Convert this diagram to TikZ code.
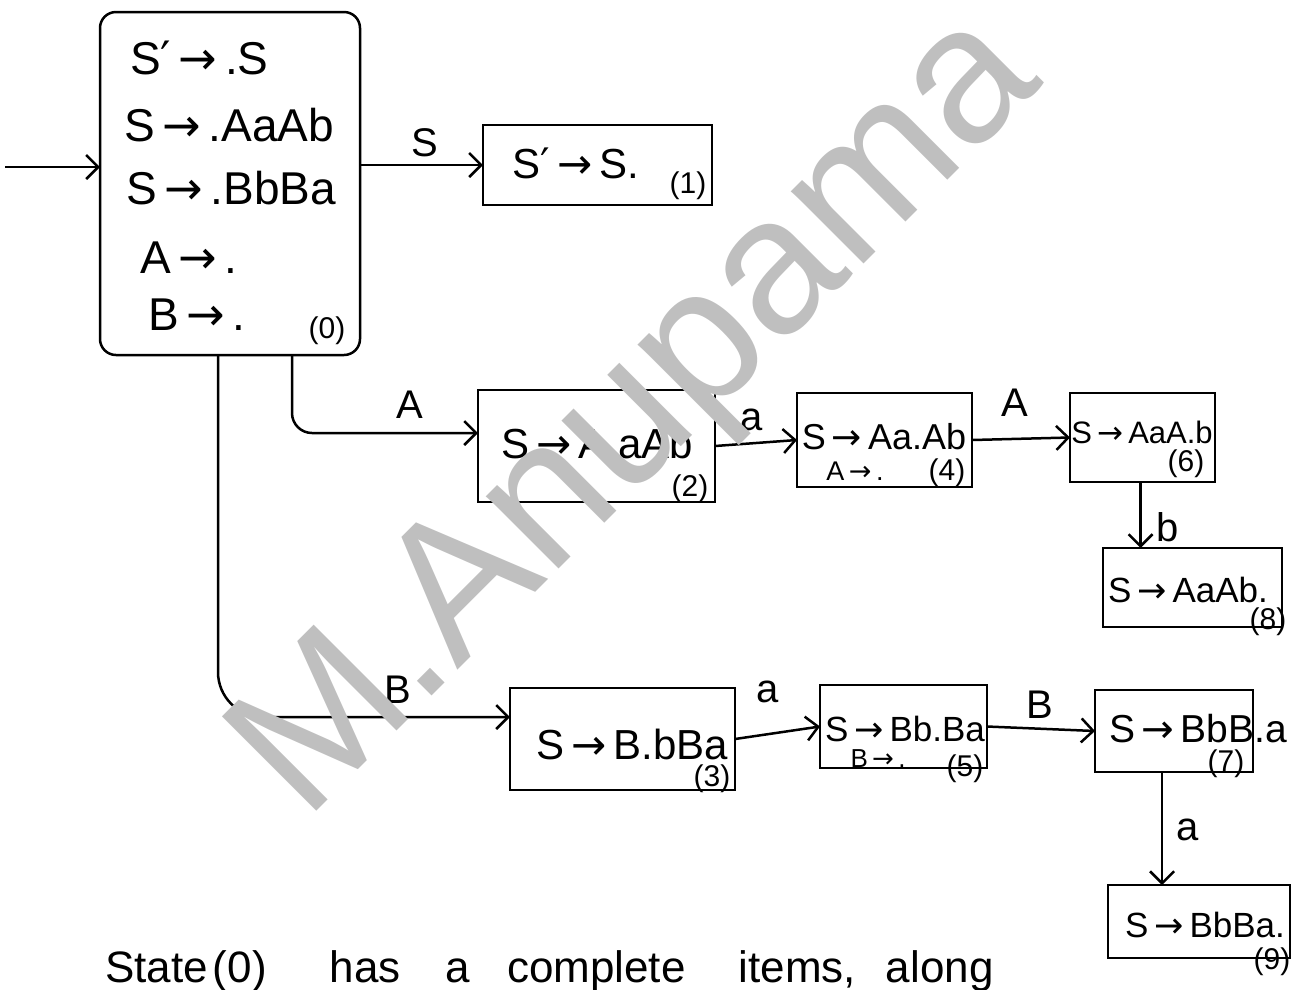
\documentclass[tikz,border=0pt]{standalone}
\usepackage{fontspec}
\setmainfont{Liberation Sans}
\newfontfamily\arrfont{DejaVu Sans}
\usetikzlibrary{arrows.meta,calc}
\definecolor{wmgray}{HTML}{BFBFBF}
\newcommand{\myarr}{\,{\arrfont →}\,}
\newcommand{\myprime}{{\arrfont ′}}
\tikzset{
  fs/.style={font=\fontsize{#1}{#1}\selectfont},
  box/.style={draw, line width=2.5pt, inner sep=0pt, outer sep=0pt, rectangle},
  item/.style={inner sep=0pt},
  num/.style={inner sep=0pt, fs=30},
  lbl/.style={inner sep=0pt, fs=40},
  arr/.style={line width=2.5pt, -{Straight Barb[length=12pt,width=24pt,line width=2.5pt]}},
  wm/.style={text=wmgray, inner sep=0pt, fs=194}
}
\begin{document}
\begin{tikzpicture}[x=1pt,y=-1pt]
\useasboundingbox (0,0) rectangle (1300,989);
% boxes
\node[box, rounded corners=16pt, minimum width=260pt, minimum height=343pt] (s0) at (230,183.5) {};
\node[box, minimum width=229pt, minimum height=80pt] (s1) at (597.5,165) {};
\node[box, minimum width=237pt, minimum height=112pt] (s2) at (596.5,446) {};
\node[box, minimum width=175pt, minimum height=94pt] (s4) at (884.5,440) {};
\node[box, minimum width=145pt, minimum height=89pt] (s6) at (1142.5,437.5) {};
\node[box, minimum width=179pt, minimum height=79pt] (s8) at (1192.5,587.5) {};
\node[box, minimum width=225pt, minimum height=102pt] (s3) at (622.5,739) {};
\node[box, minimum width=167pt, minimum height=83pt] (s5) at (903.5,726.5) {};
\node[box, minimum width=158pt, minimum height=82pt] (s7) at (1174,731) {};
\node[box, minimum width=182pt, minimum height=73pt] (s9) at (1199,921.5) {};
% items of state 0
\node[item, fs=46, anchor=west] (i0a) at (130,58) {S\myprime\myarr.S};
\node[item, fs=46, anchor=west] (i0b) at (124,125) {S\myarr.AaAb};
\node[item, fs=46, anchor=west] (i0c) at (126,188) {S\myarr.BbBa};
\node[item, fs=46, anchor=west] (i0d) at (140,258) {A\myarr.};
\node[item, fs=46, anchor=west] (i0e) at (148,315) {B\myarr.};
\node[num] (n0) at (327,331) {(0)};
% other states
\node[item, fs=42] (i1) at (576,163) {S\myprime\myarr S.};
\node[num] (n1) at (688,186) {(1)};
\node[item, fs=42] (i2) at (597,443) {S\myarr A.aAb};
\node[num] (n2) at (690,489) {(2)};
\node[item, fs=36] (i4a) at (884,437) {S\myarr Aa.Ab};
\node[item, fs=27] (i4b) at (855,471) {A\myarr.};
\node[num] (n4) at (947,473) {(4)};
\node[item, fs=31] (i6) at (1142,432) {S\myarr AaA.b};
\node[num] (n6) at (1186,464) {(6)};
\node[item, fs=35] (i8) at (1188,590) {S\myarr AaAb.};
\node[num] (n8) at (1268,622) {(8)};
\node[item, fs=42] (i3) at (632,744) {S\myarr B.bBa};
\node[num] (n3) at (712,779) {(3)};
\node[item, fs=35] (i5a) at (905,729) {S\myarr Bb.Ba};
\node[item, fs=26] (i5b) at (878,759) {B\myarr.};
\node[num] (n5) at (965,769) {(5)};
\node[item, fs=39] (i7) at (1198,729) {S\myarr BbB.a};
\node[num] (n7) at (1226,764) {(7)};
\node[item, fs=35] (i9) at (1205,925) {S\myarr BbBa.};
\node[num] (n9) at (1272,962) {(9)};
% connectors
\coordinate (start) at (5,167);
\draw[arr] (start) -- (s0.west |- start);
\draw[arr] (s0.east |- s1) -- (s1.west);
\draw[arr, rounded corners=20pt] ([xshift=62pt]s0.south) |- ([yshift=13pt]s2.west);
\draw[arr, rounded corners=45pt] ([xshift=-12pt]s0.south) |- ([yshift=22pt]s3.west);
\draw[arr] (s2.east) -- (s4.west);
\draw[arr] (s4.east) -- (s6.west);
\draw[arr] ([xshift=-2pt]s6.south) -- ([xshift=-2pt]s6.south |- s8.north);
\draw[arr] (s3.east) -- (s5.west);
\draw[arr] (s5.east) -- (s7.west);
\draw[arr] ([xshift=-12pt]s7.south) -- ([xshift=-12pt]s7.south |- s9.north);
% edge labels
\node[lbl] (lS) at (425,143) {S};
\node[lbl] (lA) at (410,405) {A};
\node[lbl] (lB) at (398,690) {B};
\node[lbl] (la1) at (752,420) {a};
\node[lbl] (lA2) at (1015,403) {A};
\node[lbl] (lb) at (1168,527) {b};
\node[lbl] (la2) at (768,692) {a};
\node[lbl] (lB2) at (1040,705) {B};
\node[lbl] (la3) at (1188,830) {a};
% bottom text
\node[inner sep=0pt, fs=44, anchor=base west] (note) at (105,982)
  {State\hspace{5pt}(0)\hspace{63pt}has\hspace{45pt}a\hspace{37pt}complete\hspace{53pt}items,\hspace{30pt}along};
% watermark
\node[wm, rotate=45] (wmark) at (642,420) {M.Anupama};
\end{tikzpicture}
\end{document}
